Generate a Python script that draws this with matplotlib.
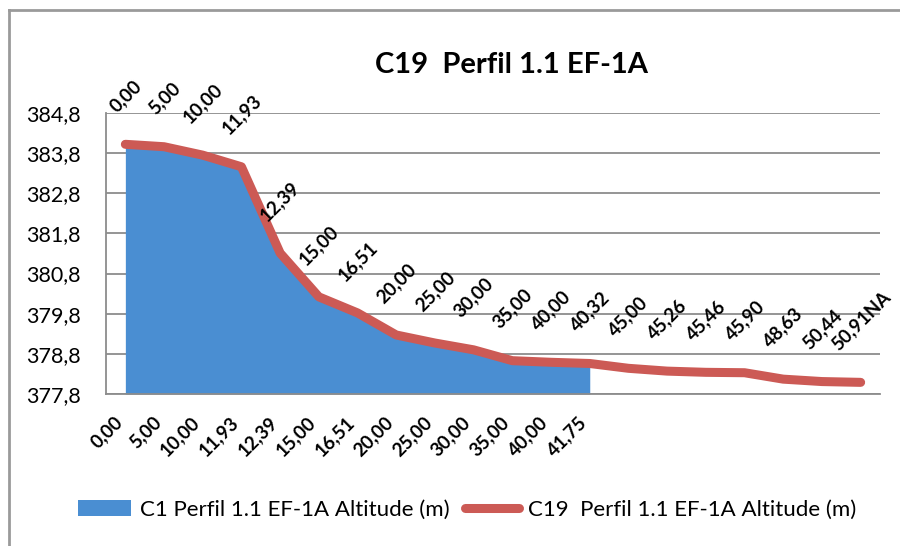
import matplotlib
matplotlib.use("Agg")
import matplotlib.pyplot as plt
from matplotlib.lines import Line2D
from matplotlib.patches import Patch
from matplotlib.transforms import ScaledTranslation
import numpy as np

plt.rcParams["font.family"] = ["Lato", "DejaVu Sans"]

# ── data ─────────────────────────────────────────────────────────────────────
TITLE = "C19  Perfil 1.1 EF-1A"
BLUE_NAME = "C1 Perfil 1.1 EF-1A Altitude (m)"
RED_NAME = "C19  Perfil 1.1 EF-1A Altitude (m)"

# category labels (blue series drives the axis)
BLUE_DIST = ["0,00", "5,00", "10,00", "11,93", "12,39", "15,00", "16,51", "20,00",
             "25,00", "30,00", "35,00", "40,00", "41,75"]
BLUE_ALT = [384.00, 383.93, 383.72, 383.42, 381.28, 380.18, 379.78, 379.24,
            379.03, 378.86, 378.58, 378.55, 378.50]

RED_DIST = ["0,00", "5,00", "10,00", "11,93", "12,39", "15,00", "16,51", "20,00",
            "25,00", "30,00", "35,00", "40,00", "40,32", "45,00", "45,26", "45,46",
            "45,90", "48,63", "50,44", "50,91NA"]
RED_ALT = [384.02, 383.96, 383.75, 383.46, 381.31, 380.22, 379.82, 379.27,
           379.07, 378.90, 378.63, 378.59, 378.56, 378.44, 378.37, 378.34,
           378.33, 378.17, 378.11, 378.09]

Y_TICKS = [377.8, 378.8, 379.8, 380.8, 381.8, 382.8, 383.8, 384.8]

BLUE = "#4a8ed2"
RED = "#cc5a55"
GRID = "#8c8c8c"

# ── figure ───────────────────────────────────────────────────────────────────
fig = plt.figure(figsize=(9, 5.46), dpi=100)
ax = fig.add_axes([106 / 900, 1 - 394 / 546, 774 / 900, 281 / 546])

n_cat = len(RED_DIST)
xb = np.arange(len(BLUE_DIST))
xr = np.arange(n_cat)

ax.fill_between(xb, Y_TICKS[0], BLUE_ALT, color=BLUE, lw=0, zorder=2)
ax.plot(xr, RED_ALT, color=RED, lw=6.5, solid_capstyle="round",
        solid_joinstyle="round", zorder=3)

# data labels above the red line
for x, y, lbl in zip(xr, RED_ALT, RED_DIST):
    ax.annotate(lbl, (x, y), xytext=(0, 21), textcoords="offset points",
                rotation=45, ha="center", va="bottom", fontsize=13.5,
                fontweight="bold", color="black", zorder=4)

ax.set_xlim(-0.5, n_cat - 0.5)
ax.set_ylim(Y_TICKS[0], Y_TICKS[-1])
ax.set_yticks(Y_TICKS)
ax.set_yticklabels([f"{v:.1f}".replace(".", ",") for v in Y_TICKS], fontsize=15.5)
ax.yaxis.grid(True, color=GRID, lw=1.3)
ax.set_axisbelow(True)

ax.set_xticks(xb)
ax.set_xticklabels(BLUE_DIST, rotation=45, ha="right", va="top",
                   fontsize=13.5, fontweight="bold")
for t in ax.get_xticklabels():
    t.set_transform(t.get_transform() + ScaledTranslation(6 / 100, 0, fig.dpi_scale_trans))
ax.tick_params(axis="x", length=0, pad=14)
ax.tick_params(axis="y", length=0, pad=18)

for s in ("top", "right"):
    ax.spines[s].set_visible(False)
for s in ("left", "bottom"):
    ax.spines[s].set_color(GRID)
    ax.spines[s].set_linewidth(1.3)

fig.text(0.568, 1 - 65 / 546, TITLE, ha="center", va="center",
         fontsize=21, fontweight="bold")

handles = [Patch(facecolor=BLUE, edgecolor="none", label=BLUE_NAME),
           Line2D([0], [0], color=RED, lw=6.5, solid_capstyle="round", label=RED_NAME)]
fig.legend(handles=handles, loc="center", bbox_to_anchor=(467 / 900, 1 - 510 / 546),
           ncol=2, frameon=False, fontsize=16, handlelength=2.4, handleheight=0.7,
           columnspacing=0.7, handletextpad=0.4)

# chart area border (top and left edge visible)
fig.add_artist(Line2D([9 / 900, 1], [1 - 10 / 546, 1 - 10 / 546],
                      transform=fig.transFigure, color="#9a9a9a", lw=2))
fig.add_artist(Line2D([9 / 900, 9 / 900], [0, 1 - 10 / 546],
                      transform=fig.transFigure, color="#9a9a9a", lw=2))

fig.savefig("out.png", dpi=100)
